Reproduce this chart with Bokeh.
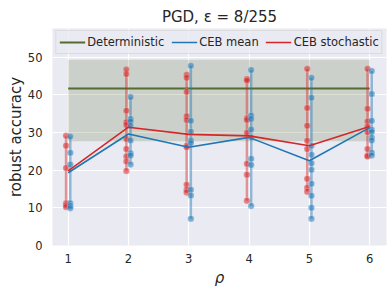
import numpy as np
from bokeh.plotting import figure
from bokeh.models import Range1d, Legend, LegendItem
from bokeh.embed import file_html
from bokeh.resources import INLINE

# ---- data ----
rho = [1, 2, 3, 4, 5, 6]
stoch_samples = [
    [29.1, 26.5, 20.6, 11.2, 10.7, 10.2],
    [46.7, 45.5, 35.8, 32.7, 32.0, 28.3, 25.6, 23.6, 22.3, 19.8],
    [45.3, 44.5, 40.8, 34.3, 33.3, 26.5, 26.1, 16.1, 14.8, 14.1],
    [44.2, 43.8, 33.8, 33.3, 29.9, 21.7, 18.8, 11.9],
    [46.9, 36.5, 31.8, 27.8, 25.6, 17.7, 15.3, 14.3],
    [46.9, 36.3, 32.9, 31.6, 30.1, 25.6, 23.9, 23.6],
]
mean_samples = [
    [28.9, 24.6, 21.5, 11.2, 10.5, 9.9],
    [39.4, 33.6, 32.9, 31.8, 27.9, 24.5, 23.9, 21.5],
    [47.7, 33.1, 30.2, 27.9, 27.2, 14.8, 13.3, 7.1],
    [46.6, 34.5, 33.6, 30.8, 28.7, 23.0, 21.4, 10.5],
    [44.5, 39.2, 26.5, 24.1, 21.8, 20.1, 16.4, 13.2, 10.0, 7.1],
    [46.3, 40.2, 33.1, 30.7, 30.1, 28.7, 27.9, 24.6, 23.9],
]
stoch_avg = [19.8, 31.4, 29.5, 29.1, 26.5, 31.6]
mean_avg = [19.3, 29.6, 26.1, 28.7, 22.5, 31.3]
det_acc = 41.7
det_low = 27.7
det_high = 49.3

x_ticks = [1, 2, 3, 4, 5, 6]
y_ticks = [0, 10, 20, 30, 40, 50]

# ---- styles ----
BLUE = "#1f77b4"
RED = "#d62728"
DET = "#556B2F"
BG = "#EAEAF2"
TXT = "#262626"
FONT = "DejaVu Sans"
OFF = 0.035

p = figure(width=392, height=294, output_backend="svg", toolbar_location=None,
           x_range=Range1d(0.74, 6.28), y_range=Range1d(0, 57.6),
           min_border_left=52, min_border_right=6, min_border_top=28, min_border_bottom=49)
p.background_fill_color = BG
p.border_fill_color = "white"
p.outline_line_color = None

p.title.text = "PGD, \u03b5 = 8/255"
p.title.align = "center"
p.title.text_font = FONT
p.title.text_font_size = "15px"
p.title.text_font_style = "normal"
p.title.text_color = TXT
p.title.standoff = 5

for ax in (p.xaxis, p.yaxis):
    ax.axis_line_color = None
    ax.major_tick_line_color = None
    ax.minor_tick_line_color = None
    ax.major_tick_out = 0
    ax.major_tick_in = 0
    ax.minor_tick_out = 0
    ax.minor_tick_in = 0
    ax.major_label_text_font = FONT
    ax.major_label_text_font_size = "11.5px"
    ax.major_label_text_color = TXT
    ax.axis_label_text_font = FONT
    ax.axis_label_text_color = TXT
p.xaxis.ticker = x_ticks
p.yaxis.ticker = y_ticks
p.xaxis.major_label_standoff = 8
p.yaxis.major_label_standoff = 10
p.xaxis.axis_label = "\u03c1"
p.xaxis.axis_label_text_font_style = "italic"
p.xaxis.axis_label_text_font_size = "15px"
p.xaxis.axis_label_standoff = 3
p.yaxis.axis_label = "robust accuracy"
p.yaxis.axis_label_text_font_style = "normal"
p.yaxis.axis_label_text_font_size = "15px"
p.yaxis.axis_label_standoff = 0

p.grid.grid_line_color = "white"
p.grid.grid_line_width = 1.2
p.xgrid.ticker = x_ticks
p.ygrid.ticker = y_ticks

# band + deterministic line
p.varea(x=[rho[0], rho[-1]], y1=[det_low, det_low], y2=[det_high, det_high],
        fill_color=DET, fill_alpha=0.2)
det_r = p.line(x=[rho[0], rho[-1]], y=[det_acc, det_acc], line_color=DET, line_width=2)

# vertical ranges and samples
for samples, color, off in ((stoch_samples, RED, -OFF), (mean_samples, BLUE, OFF)):
    xs, ys = [], []
    x0, y0, y1 = [], [], []
    for r, s in zip(rho, samples):
        xs += [r + off] * len(s)
        ys += s
        x0.append(r + off)
        y0.append(min(s)); y1.append(max(s))
    p.segment(x0=x0, y0=y0, x1=x0, y1=y1, line_color=color, line_alpha=0.45, line_width=2.5)
    p.scatter(x=xs, y=ys, size=6.5, fill_color=color, fill_alpha=0.55,
              line_color="white", line_alpha=0.5, line_width=0.5)

mean_r = p.line(x=rho, y=mean_avg, line_color=BLUE, line_width=1.6)
stoch_r = p.line(x=rho, y=stoch_avg, line_color=RED, line_width=1.6)

legend = Legend(items=[
    LegendItem(label="Deterministic", renderers=[det_r]),
    LegendItem(label="CEB mean", renderers=[mean_r]),
    LegendItem(label="CEB stochastic", renderers=[stoch_r]),
], orientation="horizontal", location="top_center")
legend.margin = 2
legend.padding = 3
legend.spacing = 7
legend.glyph_width = 26
legend.glyph_height = 16
legend.label_standoff = 2
legend.label_text_font = FONT
legend.label_text_font_size = "11.5px"
legend.label_text_color = TXT
legend.background_fill_color = BG
legend.background_fill_alpha = 0.8
legend.border_line_color = "#cccccc"
legend.border_line_width = 1
p.add_layout(legend)

open("out.html", "w").write(file_html(p, INLINE))
